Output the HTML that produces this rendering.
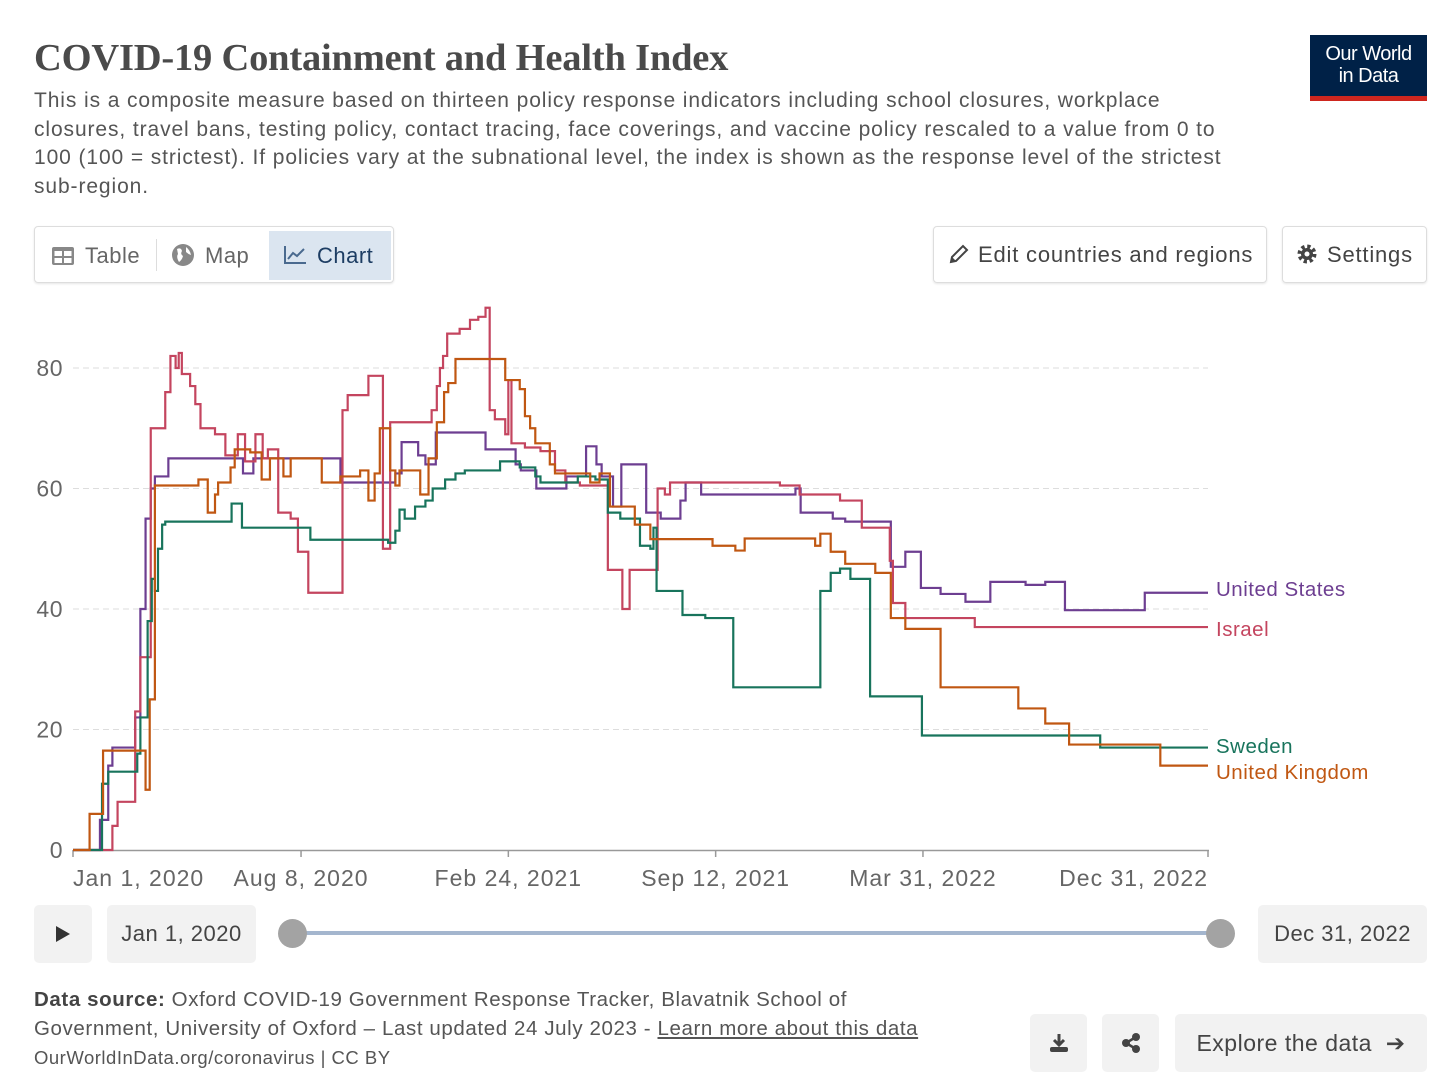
<!DOCTYPE html>
<html><head><meta charset="utf-8">
<style>
*{box-sizing:border-box;margin:0;padding:0}
body{width:1456px;height:1088px;background:#fff;font-family:"Liberation Sans",sans-serif;color:#5b5b5b;position:relative;overflow:hidden}
.abs{position:absolute}
.title{left:34px;top:36px;font-family:"Liberation Serif",serif;font-weight:bold;font-size:38.5px;color:#4a4a4a;letter-spacing:-0.2px}
.sub{left:34px;top:87px;font-size:21px;letter-spacing:0.9px;line-height:28.5px;color:#555;width:1300px;white-space:nowrap}
.logo{left:1310px;top:35px;width:117px;height:66px;background:#002147;border-bottom:5px solid #ce261e;color:#fff;font-size:20px;line-height:22px;text-align:center;padding-top:8px;letter-spacing:-0.5px}
.tabs{left:34px;top:226px;width:360px;height:57px;border:1px solid #ddd;border-radius:4px;box-shadow:0 1px 2px rgba(0,0,0,.1)}
.tab{top:4px;height:49px;font-size:22px;line-height:49px;color:#666;letter-spacing:0.5px}
.btn{border:1px solid #ddd;border-radius:4px;height:57px;font-size:22px;line-height:55px;color:#444;box-shadow:0 1px 2px rgba(0,0,0,.1);letter-spacing:0.8px}
.gbox{background:#f2f2f2;border-radius:5px;height:58px;font-size:22px;line-height:58px;color:#444;text-align:center;letter-spacing:0.5px}
.foot{left:34px;top:985px;font-size:20.5px;letter-spacing:0.6px;line-height:29px;color:#555;white-space:nowrap}
</style></head><body>
<div class="abs title">COVID-19 Containment and Health Index</div>
<div class="abs sub">This is a composite measure based on thirteen policy response indicators including school closures, workplace<br>closures, travel bans, testing policy, contact tracing, face coverings, and vaccine policy rescaled to a value from 0 to<br>100 (100 = strictest). If policies vary at the subnational level, the index is shown as the response level of the strictest<br>sub-region.</div>
<div class="abs logo">Our World<br>in Data</div>

<div class="abs tabs">
  <div class="abs tab" style="left:16px"><svg width="24" height="20" viewBox="0 0 24 20" style="vertical-align:-3px;margin-right:10px"><rect x="1" y="1" width="22" height="18" rx="2" fill="#888"/><rect x="3.5" y="5" width="7.5" height="5" fill="#fff"/><rect x="13" y="5" width="7.5" height="5" fill="#fff"/><rect x="3.5" y="12" width="7.5" height="5" fill="#fff"/><rect x="13" y="12" width="7.5" height="5" fill="#fff"/></svg>Table</div>
  <div class="abs" style="left:121px;top:12px;width:1px;height:32px;background:#ddd"></div>
  <div class="abs tab" style="left:136px"><svg width="24" height="24" viewBox="0 0 24 24" style="vertical-align:-4px;margin-right:10px"><circle cx="12" cy="12" r="11" fill="#888"/><path d="M6 6 Q10 4 11 8 Q9 11 12 13 Q11 17 8 19 Q5 14 7 11Z M15 4 Q19 7 20 12 Q17 11 15 9Z" fill="#fff"/></svg>Map</div>
  <div class="abs tab" style="left:234px;width:122px;background:#dbe5f0;padding-left:14px;color:#1d3d63"><svg width="24" height="20" viewBox="0 0 24 20" style="vertical-align:-2px;margin-right:10px"><path d="M2 1V18H23" stroke="#4a6a8f" stroke-width="2" fill="none"/><path d="M5 14L10 8L14 11L21 4" stroke="#4a6a8f" stroke-width="2" fill="none"/></svg>Chart</div>
</div>
<div class="abs btn" style="left:933px;top:226px;width:334px;padding-left:14px"><svg width="22" height="22" viewBox="0 0 22 22" style="vertical-align:-3px;margin-right:8px"><path d="M3 19L4 14L15 3L19 7L8 18Z" fill="none" stroke="#444" stroke-width="2"/><path d="M3 19L4 14L8 18Z" fill="#444"/></svg>Edit countries and regions</div>
<div class="abs btn" style="left:1282px;top:226px;width:145px;padding-left:13px"><svg width="22" height="22" viewBox="0 0 22 22" style="vertical-align:-3px;margin-right:9px"><circle cx="11" cy="11" r="7" fill="none" stroke="#444" stroke-width="5" stroke-dasharray="3 2.5"/><circle cx="11" cy="11" r="6" fill="#444"/><circle cx="11" cy="11" r="2.5" fill="#fff"/></svg>Settings</div>

<svg class="abs" style="left:0;top:0" width="1456" height="900" id="chart">
  <g id="grid"></g><g id="lines"></g><g id="labels"></g>
</svg>

<div class="abs gbox" style="left:34px;top:905px;width:58px"><svg width="16" height="18" viewBox="0 0 16 18" style="vertical-align:-2px"><path d="M1 1L15 9L1 17Z" fill="#333"/></svg></div>
<div class="abs gbox" style="left:107px;top:905px;width:149px">Jan 1, 2020</div>
<div class="abs" style="left:292px;top:931px;width:928px;height:4px;background:#a4b6ce"></div>
<div class="abs" style="left:278px;top:919px;width:29px;height:29px;border-radius:50%;background:#a3a3a3"></div>
<div class="abs" style="left:1206px;top:919px;width:29px;height:29px;border-radius:50%;background:#a3a3a3"></div>
<div class="abs gbox" style="left:1258px;top:905px;width:169px">Dec 31, 2022</div>

<div class="abs foot"><b style="color:#444">Data source:</b> Oxford COVID-19 Government Response Tracker, Blavatnik School of<br>Government, University of Oxford – Last updated 24 July 2023 - <span style="text-decoration:underline">Learn more about this data</span></div>
<div class="abs" style="left:34px;top:1047px;font-size:18.5px;letter-spacing:0.5px;color:#555">OurWorldInData.org/coronavirus | CC BY</div>
<div class="abs gbox" style="left:1030px;top:1014px;width:57px"><svg width="22" height="22" viewBox="0 0 22 22" style="vertical-align:-4px"><path d="M11 2V13M6 8L11 13L16 8" stroke="#444" stroke-width="3" fill="none"/><rect x="2" y="15" width="18" height="5" rx="2" fill="#444"/></svg></div>
<div class="abs gbox" style="left:1102px;top:1014px;width:57px"><svg width="22" height="22" viewBox="0 0 22 22" style="vertical-align:-4px"><circle cx="6" cy="11" r="4" fill="#444"/><circle cx="16" cy="5" r="4" fill="#444"/><circle cx="16" cy="17" r="4" fill="#444"/><path d="M6 11L16 5M6 11L16 17" stroke="#444" stroke-width="2.5"/></svg></div>
<div class="abs gbox" style="left:1175px;top:1014px;width:252px;font-size:23px">Explore the data &nbsp;➔</div>

<script>
const yTicks=[0,20,40,60,80];
const xTickDays=[0,220,420,620,820,1095];
const xTickLabels=["Jan 1, 2020","Aug 8, 2020","Feb 24, 2021","Sep 12, 2021","Mar 31, 2022","Dec 31, 2022"];
const seriesNames=["United States","Israel","Sweden","United Kingdom"];
const usDays=[0,26,34,38,60,65,70,75,79,92,164,174,258,311,317,333,340,350,398,427,432,447,476,495,505,510,521,529,553,567,586,591,606,692,697,702,733,745,789,803,818,837,861,885,919,938,957,1034];
const usVals=[0,5,14,17,22,40,55,60,62,65,62.5,65,61,62.5,67.7,65.5,64,69.3,66.5,64,63,60,62,67,64,62,57,64,56,55,58,61,59,59,60,56,55,54.5,47,49.5,43.5,42.5,41.2,44.5,44,44.5,39.8,42.7];
const ilDays=[0,38,43,60,65,75,89,94,99,102,105,113,118,123,137,147,159,166,176,183,188,198,210,217,227,260,265,285,299,306,346,351,354,357,361,373,383,391,398,402,407,417,420,423,436,451,465,475,489,516,530,537,564,571,576,682,701,740,761,788,791,803,870];
const ilVals=[0,4,8,23,32,70,76,82,80,82.5,79,77,74,70,69,65.5,69,64.5,69,65,66.5,56,55,49.5,42.7,73,75.5,78.7,50,71,73,77,80,82,85.7,86.5,88,88.5,90,73,71.5,69,78,67.5,66.8,66.2,63,61,60.5,46.5,40,46.5,60,59,61,60.5,59,58,53.5,48,41,38.5,37];
const seDays=[0,28,34,62,65,72,76,79,82,86,89,153,163,229,304,311,315,320,330,340,347,359,369,378,412,431,446,451,487,504,516,528,547,557,560,563,588,610,637,721,731,740,750,769,819,991];
const seVals=[0,11,13,16,22,38,45,43,50,54,54.5,57.5,53.5,51.5,51,53,56.5,55,57,58,60,61.5,62.5,63,64.5,63.5,62,61,62,61.5,56,55,50.5,50,53.5,43,39,38.5,27,43,46,46.7,45,25.5,19,17];
const ukDays=[0,16,29,63,70,74,79,121,130,137,140,152,156,171,182,190,203,210,240,258,277,285,291,296,306,311,315,335,343,351,358,362,369,417,431,436,441,446,460,465,489,499,508,518,539,542,557,617,639,648,716,721,731,745,774,789,803,837,912,938,961,1049];
const ukVals=[0,6,16.5,16.5,10,25,60.5,61.5,56,59,61,63.5,66.5,66,61.5,65,62,65,61,62,63,58,62.5,70,63,60.5,63,59,65,71,76,77.5,81.5,78,76.5,72,70,67.5,64,62.5,62.5,61,62.5,57,57,54,51.6,50.5,49.7,51.7,50.5,52.5,49.5,47.5,46,38.5,36.7,27,23.5,21,17.5,14];
const colors=["#6d3e91","#c4455f","#18745c","#c05712"];
const labelY=[589,629,746,772];

const X=d=>73+d*(1135/1095);
const Y=v=>850-v*6.025;
const NS="http://www.w3.org/2000/svg";
const grid=document.getElementById('grid'),lines=document.getElementById('lines'),labs=document.getElementById('labels');
function mk(tag,attrs,parent){const e=document.createElementNS(NS,tag);for(const k in attrs)e.setAttribute(k,attrs[k]);parent.appendChild(e);return e;}
yTicks.forEach(t=>{
  if(t>0){const l=mk('line',{x1:73,x2:1208,y1:Y(t),y2:Y(t),stroke:'#ddd','stroke-dasharray':'6 4'},grid);
  
  }
  const tx=mk('text',{x:63,y:Y(t)+8,'text-anchor':'end','font-size':'23','fill':'#666','font-family':'Liberation Sans','letter-spacing':'0.5'},grid);
  tx.textContent=t;
  
  
});
const ax=mk('line',{x1:73,x2:1209,y1:850.5,y2:850.5,stroke:'#999','stroke-width':1.5},grid);


xTickDays.forEach((d,i)=>{
  const tk=mk('line',{x1:X(d),x2:X(d),y1:850,y2:857,stroke:'#999','stroke-width':1.5},grid);
  
  
  const anchor=i==0?'start':(i==xTickDays.length-1?'end':'middle');
  const tx=mk('text',{x:X(d),y:886,'text-anchor':anchor,'font-size':'23','fill':'#666','font-family':'Liberation Sans','letter-spacing':'1'},grid);
  tx.textContent=xTickLabels[i];
  
  
});
[[usDays,usVals],[ilDays,ilVals],[seDays,seVals],[ukDays,ukVals]].forEach((s,i)=>{
  const [ds,vs]=s;let p='M'+X(ds[0])+' '+Y(vs[0]);
  for(let j=1;j<ds.length;j++){p+=' H'+X(ds[j])+' V'+Y(vs[j]);}
  p+=' H'+X(1095);
  const path=mk('path',{d:p,fill:'none',stroke:colors[i],'stroke-width':2.2},lines);
  
  
  const tx=mk('text',{x:1216,y:labelY[i]+7,'font-size':'20.5','fill':colors[i],'font-family':'Liberation Sans','letter-spacing':'0.5'},labs);
  tx.textContent=seriesNames[i];
  
  
});
</script>
</body></html>
